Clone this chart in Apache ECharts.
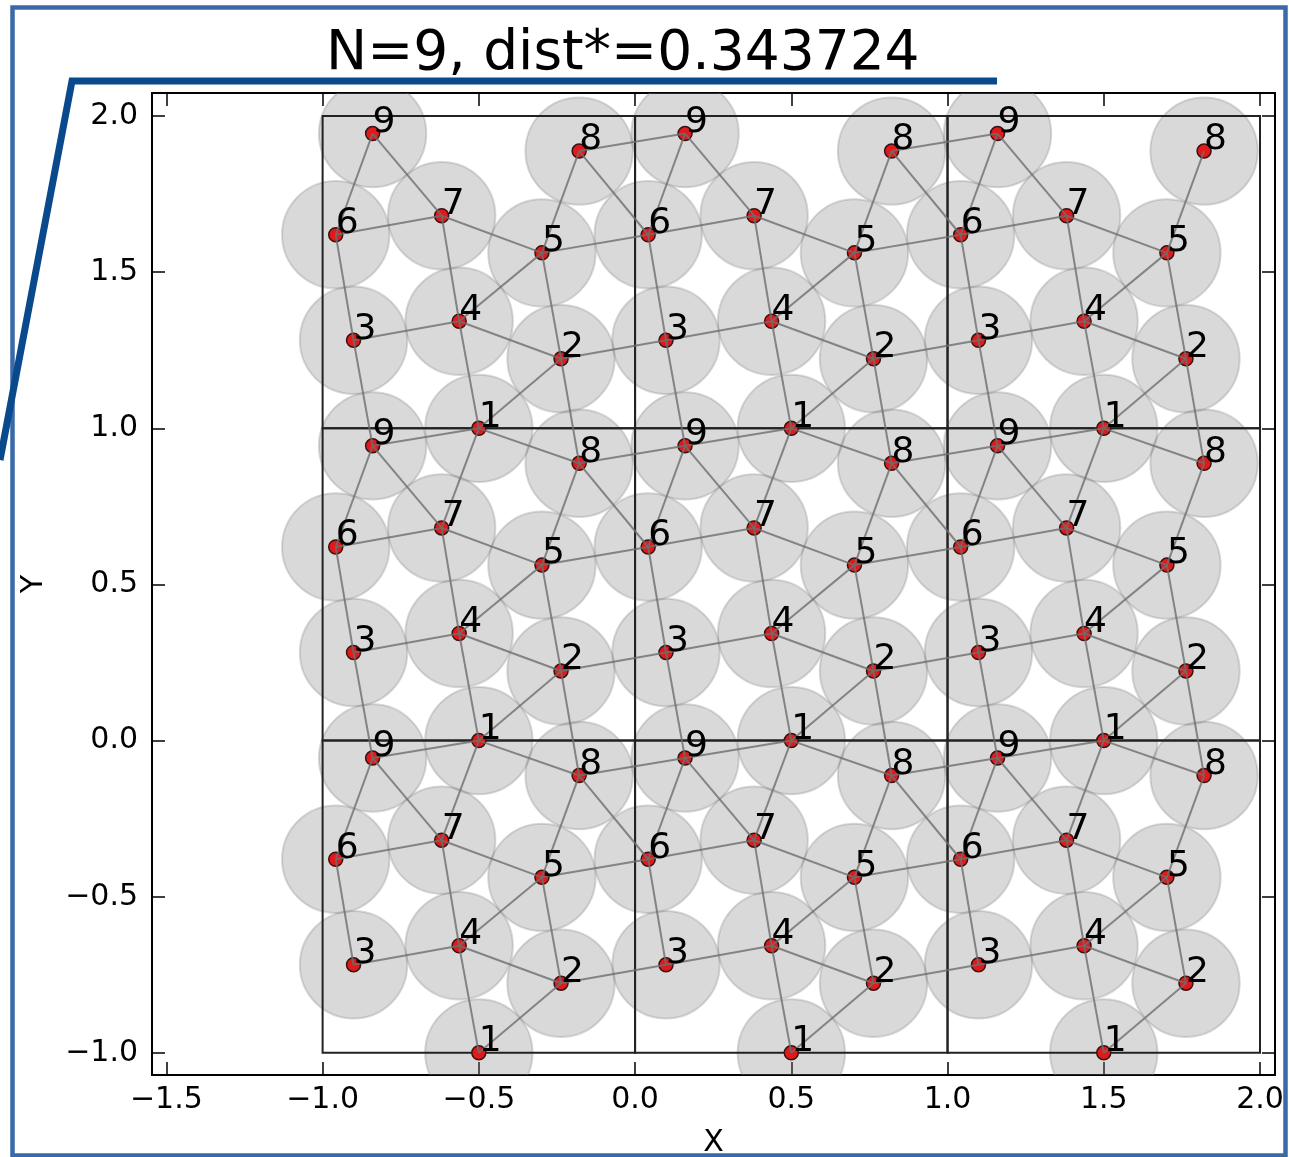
<!DOCTYPE html>
<html>
<head>
<meta charset="utf-8">
<script src="https://cdn.jsdelivr.net/npm/echarts@6/dist/echarts.min.js"></script>
<style>
  html, body { margin: 0; padding: 0; background: #fff; }
  #ec { width: 1289px; height: 1157px; }
</style>
</head>
<body>
<div id="ec"></div>
<script>
// base points in the unit cell
var pointLabels = ["1", "2", "3", "4", "5", "6", "7", "8", "9"];
var pointX = [0.500, 0.763, 0.099, 0.437, 0.702, 0.042, 0.381, 0.821, 0.160];
var pointY = [0.000, 0.223, 0.282, 0.343, 0.562, 0.620, 0.681, 0.888, 0.944];
var dist = 0.343724;
var tileOffsets = [-1, 0, 1];

// contacts: [from, to, tile dx, tile dy]
var edges = [
  [3, 6, 0, 0], [6, 9, 0, 0], [9, 3, 0, 1],
  [4, 7, 0, 0], [7, 1, 0, 1], [1, 4, 0, 0],
  [2, 5, 0, 0], [5, 8, 0, 0], [8, 2, 0, 1],
  [3, 4, 0, 0], [4, 2, 0, 0], [2, 3, 1, 0],
  [6, 7, 0, 0], [7, 5, 0, 0], [5, 6, 1, 0],
  [9, 1, 0, 1], [8, 1, 0, 1], [8, 9, 1, 0],
  [9, 7, 0, 0], [4, 5, 0, 0], [1, 2, 0, 0], [6, 8, -1, 0]
];

var xTicks = [-1.5, -1.0, -0.5, 0.0, 0.5, 1.0, 1.5, 2.0];
var yTicks = [-1.0, -0.5, 0.0, 0.5, 1.0, 1.5, 2.0];

var XMIN = -1.546, XMAX = 2.048, YMIN = -1.071, YMAX = 2.074;

var pts = [], cells = [], segs = [];
tileOffsets.forEach(function (ox) {
  tileOffsets.forEach(function (oy) {
    cells.push([ox, oy]);
    for (var i = 0; i < pointX.length; i++) {
      pts.push([pointX[i] + ox, pointY[i] + oy, i]);
    }
    edges.forEach(function (e) {
      var tx = ox + e[2], ty = oy + e[3];
      if (tileOffsets.indexOf(tx) < 0 || tileOffsets.indexOf(ty) < 0) return;
      var a = e[0] - 1, b = e[1] - 1;
      segs.push([pointX[a] + ox, pointY[a] + oy, pointX[b] + tx, pointY[b] + ty]);
    });
  });
});

var font = "DejaVu Sans";
function fmt(v) {
  return (v < 0 ? "\u2212" : "") + Math.abs(v).toFixed(1);
}
function axisBase(extra) {
  var a = {
    type: "value",
    splitLine: { show: false },
    axisLine: { show: true, onZero: false, lineStyle: { color: "#000", width: 2 } },
    axisTick: { show: true, inside: true, length: 13, lineStyle: { color: "#000", width: 1.5 } },
    axisLabel: { show: false }
  };
  return Object.assign(a, extra);
}

var myChart = echarts.init(document.getElementById("ec"));
myChart.setOption({
  animation: false,
  title: {
    text: "N=9, dist*=0.343724",
    left: 321,
    top: 22,
    textStyle: { fontFamily: font, fontSize: 55, fontWeight: "normal", color: "#000" }
  },
  grid: { left: 152, right: 14, top: 93, bottom: 82, containLabel: false, outerBoundsMode: "none" },
  xAxis: [
    axisBase({
      min: XMIN, max: XMAX, position: "bottom",
      axisTick: { show: true, inside: true, length: 13, customValues: xTicks, lineStyle: { color: "#000", width: 1.5 } },
      axisLabel: { show: true, customValues: xTicks, formatter: fmt, margin: 10, fontSize: 30, fontFamily: font, color: "#000" },
      name: "X", nameLocation: "middle", nameGap: 53,
      nameTextStyle: { fontSize: 30, fontFamily: font, color: "#000" }
    }),
    axisBase({
      min: XMIN, max: XMAX, position: "top",
      axisTick: { show: true, inside: true, length: 13, customValues: xTicks, lineStyle: { color: "#000", width: 1.5 } }
    })
  ],
  yAxis: [
    axisBase({
      min: YMIN, max: YMAX, position: "left",
      axisTick: { show: true, inside: true, length: 13, customValues: yTicks, lineStyle: { color: "#000", width: 1.5 } },
      axisLabel: { show: true, customValues: yTicks, formatter: fmt, margin: 14, fontSize: 30, fontFamily: font, color: "#000" },
      name: "Y", nameLocation: "middle", nameGap: 103,
      nameTextStyle: { fontSize: 30, fontFamily: font, color: "#000" }
    }),
    axisBase({
      min: YMIN, max: YMAX, position: "right",
      axisTick: { show: true, inside: true, length: 13, customValues: yTicks, lineStyle: { color: "#000", width: 1.5 } }
    })
  ],
  graphic: [
    {
      type: "rect", z: 100,
      shape: { x: 12.5, y: 7.5, width: 1273, height: 1148 },
      style: { fill: "none", stroke: "#3a69a8", lineWidth: 4.5 }
    },
    {
      type: "polyline", z: 101,
      shape: { points: [[0, 460], [72, 81], [997, 81]] },
      style: { fill: "none", stroke: "#0a4a8c", lineWidth: 7 }
    }
  ],
  series: [
    {
      // disks of radius dist/2
      type: "custom", z: 1, clip: true,
      data: pts,
      renderItem: function (params, api) {
        var c = api.coord([api.value(0), api.value(1)]);
        var r = api.size([dist / 2, dist / 2]);
        return {
          type: "circle",
          shape: { cx: c[0], cy: c[1], r: r[0] },
          style: { fill: "rgba(128,128,128,0.3)", stroke: "rgba(128,128,128,0.3)", lineWidth: 2 }
        };
      }
    },
    {
      // unit cells
      type: "custom", z: 2,
      data: cells,
      renderItem: function (params, api) {
        var p = api.coord([api.value(0), api.value(1) + 1]);
        var s = api.size([1, 1]);
        return {
          type: "rect",
          shape: { x: p[0], y: p[1], width: s[0], height: s[1] },
          style: { fill: "none", stroke: "#222", lineWidth: 2 }
        };
      }
    },
    {
      type: "scatter", z: 3,
      data: pts,
      symbolSize: 14,
      itemStyle: { color: "#e01a1a", borderColor: "#3a1212", borderWidth: 1.5, opacity: 1 }
    },
    {
      // contact edges
      type: "custom", z: 4,
      data: segs,
      renderItem: function (params, api) {
        var a = api.coord([api.value(0), api.value(1)]);
        var b = api.coord([api.value(2), api.value(3)]);
        return {
          type: "line",
          shape: { x1: a[0], y1: a[1], x2: b[0], y2: b[1] },
          style: { stroke: "rgba(110,110,110,0.8)", lineWidth: 2 }
        };
      }
    },
    {
      // point numbers
      type: "custom", z: 5,
      data: pts,
      renderItem: function (params, api) {
        var c = api.coord([api.value(0), api.value(1)]);
        return {
          type: "text",
          x: c[0], y: c[1] + 7,
          style: {
            text: pointLabels[api.value(2)],
            fill: "#000",
            fontSize: 36,
            fontFamily: font,
            align: "left",
            verticalAlign: "bottom"
          }
        };
      }
    }
  ]
});
</script>
</body>
</html>
